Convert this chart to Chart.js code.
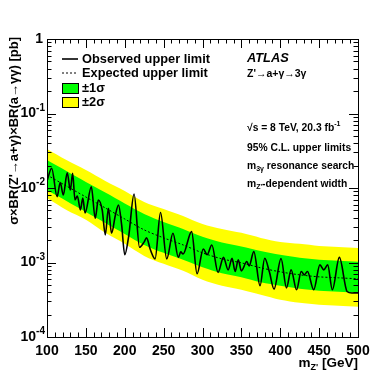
<!DOCTYPE html>
<html>
<head>
<meta charset="utf-8">
<script src="https://cdn.jsdelivr.net/npm/chart.js@4.4.1/dist/chart.umd.min.js"></script>
<style>
  html, body { margin: 0; padding: 0; background: #fff; }
  canvas { display: block; }
</style>
</head>
<body>
<canvas id="limitChart" width="390" height="375"></canvas>
<script>
// observed limit (pb)
const obsMasses = [100,106,113,117,121,126,130,133,136,139,143,146,149,157,162,166,171,175,179,183,
  188,192,196,200,205,212,219,225,228,233,239,246,254,262,269,272,275,286,293,301,
  306,312,320,327,333,338,342,346,350,357,360,366,374,380,386,392,401,408,414,421,
  427,431,435,443,451,456,461,467,476,486,492,500];
const observed = [0.0124,0.0184,0.00764,0.0118,0.00806,0.0160,0.0094,0.0157,0.00691,0.00781,
  0.00507,0.00735,0.00462,0.0104,0.00393,0.00691,0.00507,0.00235,0.00535,0.00247,
  0.00435,0.00592,0.00319,0.00127,0.00223,0.00831,0.0016,0.00189,0.00214,0.00148,
  0.00112,0.0047,0.00112,0.00247,0.00117,0.00139,0.0013,0.0026,0.000705,0.00152,
  0.00127,0.00172,0.000738,0.00117,0.000797,0.00114,0.000756,0.00109,0.000773,0.00103,
  0.000902,0.0014,0.000487,0.00114,0.000749,0.00044,0.00113,0.000457,0.000797,0.00043,
  0.000756,0.000683,0.000756,0.00043,0.00093,0.000797,0.00093,0.00043,0.00117,0.000408,
  0.000389,0.000389];

// expected limit and bands
const bandMasses = [100,125,150,175,200,225,250,275,300,325,350,375,400,425,450,475,500];
const expected   = [0.01493,0.01063,0.00757,0.0054,0.00384,0.00274,0.00214,0.001723,0.001347,0.001119,0.000989,0.000848,0.000749,0.000683,0.000642,0.000623,0.000604];
const greenUp    = [0.02372,0.01689,0.01203,0.0087,0.0062,0.00448,0.0035,0.00282,0.00221,0.00186,0.001645,0.001432,0.001266,0.001154,0.001085,0.001052,0.00102];
const greenDown  = [0.0094,0.0067,0.00477,0.0034,0.00242,0.001723,0.001347,0.001085,0.000861,0.000716,0.000633,0.000542,0.000487,0.000444,0.000417,0.000404,0.000392];
const yellowUp   = [0.0333,0.02372,0.01742,0.01241,0.00912,0.00649,0.00523,0.00422,0.00329,0.00282,0.0025,0.00214,0.00189,0.00178,0.00167,0.00162,0.00157];
const yellowDown = [0.00735,0.00507,0.00376,0.0025,0.00178,0.001227,0.000959,0.000773,0.000586,0.000487,0.00043,0.000369,0.000316,0.000288,0.000271,0.000263,0.000255];

const xTickLabels = [100,150,200,250,300,350,400,450,500];
const yTickExps = [0,-1,-2,-3,-4];

const FONT = "'Liberation Sans', Arial, sans-serif";
const pts = (xs, ys) => xs.map((m, i) => ({x: m, y: ys[i]}));

// draw text made of normal / sub / sup pieces
function rich(ctx, parts, x, y, size, align) {
  const small = Math.round(size * 0.7);
  const w = parts.map(([t, k]) => {
    ctx.font = 'bold ' + (k === 'n' ? size : small) + 'px ' + FONT;
    return ctx.measureText(t).width;
  });
  let cx = align === 'right' ? x - w.reduce((a, b) => a + b, 0) : x;
  parts.forEach(([t, k], i) => {
    ctx.font = 'bold ' + (k === 'n' ? size : small) + 'px ' + FONT;
    const dy = k === 'sub' ? size * 0.3 : k === 'sup' ? -size * 0.4 : 0;
    ctx.fillText(t, cx, y + dy);
    cx += w[i];
  });
}

const decor = {
  id: 'decor',
  afterDraw(chart) {
    const {ctx, chartArea: a, scales: {x, y}} = chart;
    ctx.save();
    ctx.strokeStyle = '#000';
    ctx.fillStyle = '#000';
    ctx.lineWidth = 1;

    // ticks on all four sides
    ctx.beginPath();
    for (let m = 100; m <= 500; m += 10) {
      const px = Math.round(x.getPixelForValue(m)) + 0.5;
      const len = m % 50 === 0 ? 9 : 4.5;
      ctx.moveTo(px, a.bottom); ctx.lineTo(px, a.bottom - len);
      ctx.moveTo(px, a.top); ctx.lineTo(px, a.top + len);
    }
    for (let e = -4; e <= 0; e++) {
      for (let k = 1; k <= 9; k++) {
        const v = k * Math.pow(10, e);
        if (v > 1) break;
        const py = Math.round(y.getPixelForValue(v)) + 0.5;
        const len = k === 1 ? 9 : 4.5;
        ctx.moveTo(a.left, py); ctx.lineTo(a.left + len, py);
        ctx.moveTo(a.right, py); ctx.lineTo(a.right - len, py);
      }
    }
    ctx.stroke();
    ctx.strokeRect(Math.round(a.left) + 0.5, Math.round(a.top) + 0.5,
                   Math.round(a.right - a.left), Math.round(a.bottom - a.top));

    // tick labels
    ctx.textBaseline = 'middle';
    ctx.textAlign = 'center';
    ctx.font = 'bold 14px ' + FONT;
    xTickLabels.forEach(m => ctx.fillText(String(m), x.getPixelForValue(m), a.bottom + 14));
    ctx.textAlign = 'left';
    yTickExps.forEach(e => {
      const py = y.getPixelForValue(Math.pow(10, e));
      if (e === 0) rich(ctx, [['1', 'n']], a.left - 4, py, 14, 'right');
      else rich(ctx, [['10', 'n'], [String(e), 'sup']], a.left - 2, py, 14, 'right');
    });

    // axis titles
    rich(ctx, [['m', 'n'], ["Z'", 'sub'], [' [GeV]', 'n']], a.right, a.bottom + 26, 13.5, 'right');
    ctx.save();
    ctx.translate(14, a.top - 2);
    ctx.rotate(-Math.PI / 2);
    ctx.textAlign = 'right';
    ctx.font = 'bold 13px ' + FONT;
    ctx.fillText("\u03c3\u00d7BR(Z'\u2192a+\u03b3)\u00d7BR(a\u2192\u03b3\u03b3) [pb]", 0, 0);
    ctx.restore();

    // legend
    const lx = 62, lw = 16;
    ctx.lineWidth = 1.6;
    ctx.beginPath(); ctx.moveTo(lx, 59); ctx.lineTo(lx + lw, 59); ctx.stroke();
    ctx.lineWidth = 1;
    ctx.setLineDash([2, 2]);
    ctx.beginPath(); ctx.moveTo(lx, 73); ctx.lineTo(lx + lw, 73); ctx.stroke();
    ctx.setLineDash([]);
    ctx.fillStyle = '#00ff00'; ctx.fillRect(lx, 83, lw, 10);
    ctx.strokeRect(lx + 0.5, 83.5, lw, 10);
    ctx.fillStyle = '#ffff00'; ctx.fillRect(lx, 97, lw, 10);
    ctx.strokeRect(lx + 0.5, 97.5, lw, 10);
    ctx.fillStyle = '#000';
    rich(ctx, [['Observed upper limit', 'n']], 82, 59, 12.8);
    rich(ctx, [['Expected upper limit', 'n']], 82, 73, 12.8);
    rich(ctx, [['\u00b11\u03c3', 'n']], 82, 88, 12.8);
    rich(ctx, [['\u00b12\u03c3', 'n']], 82, 102, 12.8);

    // labels on the right
    ctx.font = 'italic bold 12.8px ' + FONT;
    ctx.fillText('ATLAS', 247, 58);
    rich(ctx, [["Z'\u2192a+\u03b3\u21923\u03b3", 'n']], 247, 74, 10.5);
    rich(ctx, [['\u221as = 8 TeV, 20.3 fb', 'n'], ['-1', 'sup']], 247, 128, 10.3);
    rich(ctx, [['95% C.L. upper limits', 'n']], 247, 148, 10.3);
    rich(ctx, [['m', 'n'], ['3\u03b3', 'sub'], [' resonance search', 'n']], 247, 166, 10.3);
    rich(ctx, [['m', 'n'], ["Z'", 'sub'], ['-dependent width', 'n']], 247, 184, 10.3);
    ctx.restore();
  }
};

new Chart(document.getElementById('limitChart'), {
  type: 'line',
  data: {
    datasets: [
      { data: pts(obsMasses, observed), borderColor: '#000', borderWidth: 1.6,
        pointRadius: 0, cubicInterpolationMode: 'monotone', fill: false, order: 0 },
      { data: pts(bandMasses, expected), borderColor: '#000', borderWidth: 1,
        borderDash: [2, 2], pointRadius: 0, tension: 0.3, fill: false, order: 1 },
      { data: pts(bandMasses, greenUp), borderWidth: 0, pointRadius: 0, tension: 0.3,
        backgroundColor: '#00ff00', fill: '+1', order: 2 },
      { data: pts(bandMasses, greenDown), borderWidth: 0, pointRadius: 0, tension: 0.3,
        fill: false, order: 2 },
      { data: pts(bandMasses, yellowUp), borderWidth: 0, pointRadius: 0, tension: 0.3,
        backgroundColor: '#ffff00', fill: '+1', order: 3 },
      { data: pts(bandMasses, yellowDown), borderWidth: 0, pointRadius: 0, tension: 0.3,
        fill: false, order: 3 }
    ]
  },
  options: {
    responsive: false,
    animation: false,
    devicePixelRatio: 1,
    layout: { padding: { left: 47, right: 32, top: 39, bottom: 38 } },
    plugins: { legend: { display: false }, tooltip: { enabled: false } },
    scales: {
      x: { type: 'linear', min: 100, max: 500, display: false },
      y: { type: 'logarithmic', min: 1e-4, max: 1, display: false }
    }
  },
  plugins: [decor]
});
</script>
</body>
</html>
